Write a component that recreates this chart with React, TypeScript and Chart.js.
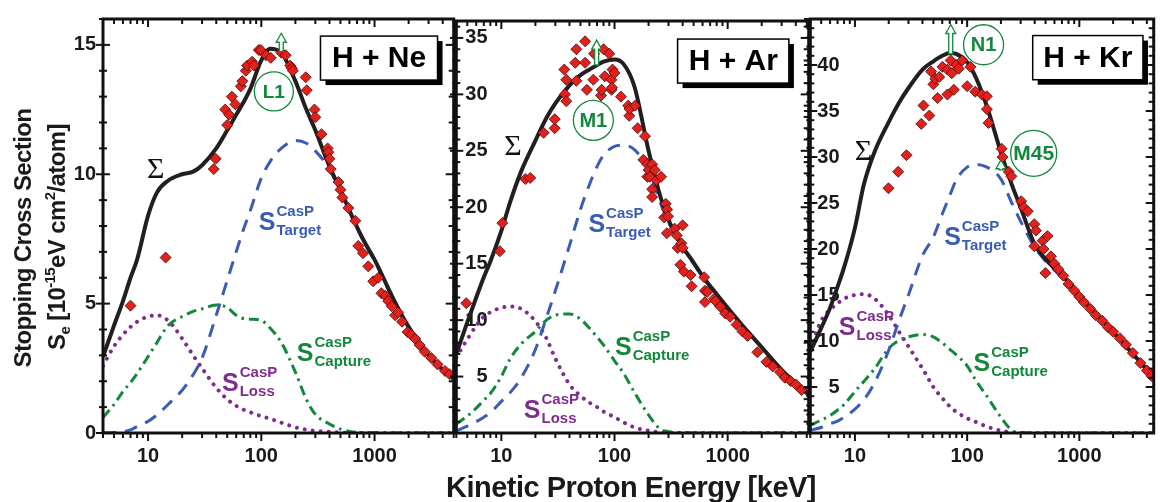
import React, { useEffect, useRef } from "react";
import { Chart, registerables } from "chart.js";

Chart.register(...registerables);

const SANS = '"Liberation Sans", Arial, Helvetica, sans-serif';
const SERIF = '"Liberation Serif", "Times New Roman", serif';
const RED = "#e3211c";
const RED_EDGE = "#4a0808";
const BLACK = "#231f20";
const BLUE = "#3b5cb4";
const GREEN = "#13873b";
const PURPLE = "#7e2d8e";

// ---------- shared tick values ----------
const xTickLabels = [10, 100, 1000];

// ---------- Panel 1: H + Ne ----------
const neE = [4, 5, 6, 7, 8, 10, 12, 15, 20, 25, 30, 40, 50, 60, 70, 80, 100, 120, 150, 200, 250, 300, 400, 500, 600, 800, 1000, 1500, 2000, 3000, 4000, 5000];
const neSigma = [2.95, 4.15, 5.1, 6.0, 6.7, 8.4, 9.3, 9.75, 10.0, 10.1, 10.35, 11.0, 11.7, 12.3, 12.8, 13.3, 14.4, 14.85, 14.7, 13.6, 12.5, 11.7, 10.3, 9.4, 8.6, 7.45, 6.7, 5.1, 4.1, 3.0, 2.45, 2.1];
const neTarget = [0, 0.02, 0.05, 0.12, 0.25, 0.45, 0.7, 1.1, 1.65, 2.25, 2.9, 4.55, 5.9, 7.0, 7.9, 8.6, 9.85, 10.5, 11.0, 11.3, 11.2, 10.9, 10.2, 9.3, 8.55, 7.4, 6.65, 5.05, 4.05, 2.95, 2.42, 2.08];
const neCapture = [0.6, 1.1, 1.6, 1.95, 2.3, 2.95, 3.5, 4.15, 4.5, 4.7, 4.8, 4.95, 4.85, 4.55, 4.42, 4.4, 4.35, 4.05, 3.5, 2.35, 1.3, 0.72, 0.35, 0.15, 0.06, 0.02, 0.01, 0, 0, 0, 0, 0];
const neLoss = [2.6, 3.35, 3.8, 4.1, 4.3, 4.5, 4.55, 4.35, 3.65, 3.0, 2.5, 1.75, 1.3, 1.05, 0.9, 0.8, 0.65, 0.55, 0.4, 0.22, 0.13, 0.08, 0.05, 0.02, 0.01, 0, 0, 0, 0, 0, 0, 0];
const nePtE = [7.0, 14.3, 38, 39.5, 48, 50, 52, 55, 59, 66, 68, 73, 75, 83, 86, 95, 99, 110, 121, 150, 164, 180, 186, 190, 247, 252, 295, 300, 340, 385, 391, 400, 410, 480, 500, 520, 587, 676, 718, 790, 880, 973, 1078, 1150, 1250, 1320, 1420, 1520, 1612, 1750, 1960, 2100, 2290, 2500, 2780, 3170, 3600, 4190, 4600];
const nePtS = [4.92, 6.78, 10.2, 10.6, 12.5, 11.9, 12.3, 13.0, 12.7, 13.4, 13.6, 14.0, 14.2, 14.35, 14.2, 14.8, 14.8, 14.6, 14.5, 14.7, 14.6, 14.2, 14.1, 14.0, 13.75, 13.25, 12.5, 12.2, 11.55, 11.0, 10.85, 10.6, 10.2, 9.7, 9.4, 9.1, 8.7, 8.2, 7.23, 6.95, 6.44, 5.86, 6.0, 5.4, 5.3, 5.1, 4.9, 4.55, 4.66, 4.3, 3.9, 3.8, 3.64, 3.4, 3.14, 2.9, 2.65, 2.4, 2.27];
const neYLabels = [0, 5, 10, 15];

// ---------- Panel 2: H + Ar ----------
const arE = [4, 5, 6, 7, 8, 10, 12, 15, 20, 25, 30, 40, 50, 60, 70, 80, 100, 120, 150, 200, 250, 300, 400, 500, 600, 800, 1000, 1500, 2000, 3000, 4000, 5200];
const arSigma = [7.0, 9.8, 12.0, 13.8, 15.2, 17.9, 20.5, 23.2, 25.9, 27.9, 29.2, 30.8, 31.7, 32.2, 32.6, 32.9, 33.1, 32.7, 30.7, 25.0, 21.2, 18.9, 16.5, 15.1, 13.9, 12.3, 11.1, 9.0, 7.6, 5.6, 4.4, 3.4];
const arTarget = [0.2, 0.6, 1.0, 1.4, 1.8, 2.8, 3.6, 4.9, 7.4, 10.2, 12.6, 16.6, 19.8, 22.0, 23.6, 24.6, 25.4, 25.5, 25.1, 23.3, 20.6, 18.7, 16.4, 15.0, 13.8, 12.2, 11.0, 8.95, 7.55, 5.55, 4.35, 3.35];
const arCapture = [0.8, 1.5, 2.2, 2.9, 3.5, 5.0, 6.6, 7.9, 9.0, 10.0, 10.45, 10.55, 10.1, 9.3, 8.5, 7.8, 6.4, 5.3, 3.6, 1.6, 0.4, 0.12, 0.03, 0, 0, 0, 0, 0, 0, 0, 0, 0];
const arLoss = [6.7, 8.3, 9.5, 10.3, 10.7, 11.1, 11.2, 11.0, 9.9, 8.4, 6.6, 4.3, 3.3, 2.7, 2.3, 1.9, 1.4, 0.95, 0.5, 0.2, 0.08, 0.04, 0.01, 0, 0, 0, 0, 0, 0, 0, 0, 0];
const arPtE = [4.9, 9.7, 10.2, 16.3, 18, 23.6, 29.6, 29.6, 36, 36.5, 37.5, 37.5, 45, 46, 46, 55, 55, 57, 65, 66, 76, 77, 80, 82, 90, 94, 94, 95, 96, 100, 114, 132, 135, 136, 152, 160, 180, 186, 195, 195, 200, 205, 215, 215, 215, 227, 235, 258, 275, 284, 290, 292, 297, 340, 355, 361, 382, 390, 400, 400, 410, 470, 480, 620, 630, 630, 660, 760, 780, 860, 950, 1050, 1200, 1350, 1500, 1830, 2200, 2500, 2900, 3200, 3600, 4000, 4500];
const arPtS = [11.5, 16.1, 18.6, 22.5, 22.6, 26.6, 27.0, 27.8, 32.2, 30.0, 29.4, 31.3, 32.8, 34.0, 31.2, 34.7, 32.8, 30.4, 31.3, 33.6, 29.9, 30.4, 34.0, 31.6, 33.6, 31.3, 30.4, 30.6, 32.2, 31.9, 29.8, 29.0, 28.1, 28.7, 29.0, 27.0, 24.2, 26.3, 23.8, 22.7, 23.3, 22.7, 23.8, 21.6, 20.9, 23.3, 22.4, 22.7, 19.1, 20.3, 17.7, 19.8, 19.2, 18.1, 17.5, 16.4, 14.9, 16.8, 18.4, 16.4, 14.3, 14.0, 13.0, 13.8, 12.6, 11.6, 12.5, 11.9, 11.7, 11.2, 10.6, 10.3, 9.6, 9.0, 8.6, 7.15, 6.3, 5.9, 5.4, 4.9, 4.6, 4.3, 3.8];
const arYLabels = [5, 10, 15, 20, 25, 30, 35];

// ---------- Panel 3: H + Kr ----------
const krE = [4, 5, 6, 7, 8, 10, 12, 15, 20, 25, 30, 40, 50, 60, 70, 80, 100, 120, 150, 200, 250, 300, 400, 500, 600, 800, 1000, 1500, 2000, 3000, 4000, 4600];
const krSigma = [8.85, 11.4, 13.6, 15.9, 18.0, 22.3, 27.0, 30.6, 33.8, 36.0, 37.5, 39.5, 40.4, 41.0, 41.3, 41.2, 40.3, 38.6, 35.5, 30.5, 27.0, 24.5, 20.5, 18.9, 17.9, 16.4, 14.9, 12.6, 11.0, 8.6, 6.9, 6.0];
const krTarget = [0.3, 0.6, 1.0, 1.3, 1.7, 2.6, 3.6, 5.5, 9.0, 12.4, 15.0, 19.3, 21.3, 23.8, 25.8, 27.5, 28.9, 29.2, 28.9, 27.6, 25.0, 23.0, 20.2, 18.7, 17.7, 16.2, 14.75, 12.5, 10.9, 8.5, 6.8, 5.9];
const krCapture = [0.85, 1.4, 1.9, 2.5, 3.1, 4.5, 5.6, 7.0, 9.2, 10.1, 10.45, 10.7, 10.45, 9.8, 9.1, 8.5, 7.3, 5.7, 4.0, 1.7, 0.3, 0.05, 0, 0, 0, 0, 0, 0, 0, 0, 0, 0];
const krLoss = [9.2, 12.2, 13.4, 14.1, 14.6, 15.0, 15.1, 14.6, 12.8, 10.9, 9.4, 7.0, 5.0, 3.8, 2.9, 2.3, 1.6, 1.2, 0.7, 0.25, 0.08, 0.03, 0, 0, 0, 0, 0, 0, 0, 0, 0, 0];
const krPtE = [19.9, 24.3, 28.8, 39, 40.8, 46, 47.7, 50, 52, 54.5, 56.4, 60.3, 66.7, 66.7, 71.3, 73, 76.2, 80, 84.3, 90.3, 100, 107, 118, 135, 150, 150, 155, 203, 207, 235, 248, 303, 320, 347, 397, 397, 410, 470, 480, 499, 520, 558, 600, 650, 720, 800, 900, 1000, 1100, 1250, 1400, 1600, 1800, 2000, 2300, 2600, 3000, 3500, 4000, 4400];
const krPtS = [26.6, 28.4, 30.2, 33.6, 35.6, 34.5, 39.3, 37.9, 38.5, 36.4, 38.7, 39.8, 39.5, 36.8, 40.5, 39.1, 37.3, 40.0, 39.6, 40.5, 37.7, 39.8, 37.1, 36.8, 36.6, 35.2, 33.7, 30.9, 30.0, 28.4, 27.9, 25.2, 24.5, 24.1, 22.7, 20.3, 22.0, 20.9, 20.0, 17.4, 21.4, 19.2, 18.4, 17.8, 17.1, 16.2, 15.5, 14.8, 14.2, 13.5, 12.8, 12.2, 11.5, 11.0, 10.3, 9.6, 8.7, 7.6, 6.8, 6.2];
const krYLabels = [5, 10, 15, 20, 25, 30, 35, 40];

type Ann =
  | { kind: "sigma"; e: number; v: number }
  | { kind: "slabel"; e: number; v: number; sub: string; color: string }
  | { kind: "circle"; e: number; v: number; r: number; text: string; size: number }
  | { kind: "arrow"; e: number; v0: number; v1: number }
  | { kind: "box"; e0: number; e1: number; v0: number; v1: number; text: string };

interface PanelDef {
  id: string;
  canvasLeft: number;
  canvasWidth: number;
  yAxisWidth: number;
  padRight: number;
  xMax: number;
  yMax: number;
  mirror: boolean;
  yPad: number;
  yLabels: number[];
  E: number[];
  sigma: number[];
  target: number[];
  capture: number[];
  loss: number[];
  ptE: number[];
  ptS: number[];
  anns: Ann[];
}

const panels: PanelDef[] = [
  {
    id: "ne", canvasLeft: 0, canvasWidth: 460, yAxisWidth: 103, padRight: 5,
    xMax: 5000, yMax: 16, mirror: false, yPad: 7, yLabels: neYLabels,
    E: neE, sigma: neSigma, target: neTarget, capture: neCapture, loss: neLoss,
    ptE: nePtE, ptS: nePtS,
    anns: [
      { kind: "sigma", e: 11.7, v: 10.15 },
      { kind: "slabel", e: 95, v: 7.84, sub: "Target", color: BLUE },
      { kind: "slabel", e: 206, v: 2.8, sub: "Capture", color: GREEN },
      { kind: "slabel", e: 45, v: 1.63, sub: "Loss", color: PURPLE },
      { kind: "circle", e: 129, v: 13.2, r: 19.5, text: "L1", size: 19 },
      { kind: "arrow", e: 150, v0: 14.75, v1: 15.45 },
      { kind: "box", e0: 333, e1: 3600, v0: 15.34, v1: 13.64, text: "H + Ne" },
    ],
  },
  {
    id: "ar", canvasLeft: 450, canvasWidth: 365, yAxisWidth: 5, padRight: 6,
    xMax: 5200, yMax: 36.5, mirror: true, yPad: 9, yLabels: arYLabels,
    E: arE, sigma: arSigma, target: arTarget, capture: arCapture, loss: arLoss,
    ptE: arPtE, ptS: arPtS,
    anns: [
      { kind: "sigma", e: 12.65, v: 25.3 },
      { kind: "slabel", e: 58.8, v: 17.8, sub: "Target", color: BLUE },
      { kind: "slabel", e: 101, v: 6.9, sub: "Capture", color: GREEN },
      { kind: "slabel", e: 15.8, v: 1.3, sub: "Loss", color: PURPLE },
      { kind: "circle", e: 65, v: 27.7, r: 20, text: "M1", size: 20 },
      { kind: "arrow", e: 69.5, v0: 32.6, v1: 34.8 },
      { kind: "box", e0: 361, e1: 3475, v0: 34.9, v1: 31.0, text: "H + Ar" },
    ],
  },
  {
    id: "kr", canvasLeft: 804, canvasWidth: 356, yAxisWidth: 5, padRight: 2,
    xMax: 4600, yMax: 45, mirror: true, yPad: 7, yLabels: krYLabels,
    E: krE, sigma: krSigma, target: krTarget, capture: krCapture, loss: krLoss,
    ptE: krPtE, ptS: krPtS,
    anns: [
      { kind: "sigma", e: 11.9, v: 30.5 },
      { kind: "slabel", e: 62.4, v: 20.4, sub: "Target", color: BLUE },
      { kind: "slabel", e: 114, v: 6.7, sub: "Capture", color: GREEN },
      { kind: "slabel", e: 7.18, v: 10.7, sub: "Loss", color: PURPLE },
      { kind: "circle", e: 140, v: 42.2, r: 20, text: "N1", size: 20 },
      { kind: "arrow", e: 71.4, v0: 41.2, v1: 44.4 },
      { kind: "circle", e: 392, v: 30.4, r: 23, text: "M45", size: 21 },
      { kind: "arrow", e: 200, v0: 28.6, v1: 29.7 },
      { kind: "box", e0: 384, e1: 3690, v0: 43.2, v1: 38.4, text: "H + Kr" },
    ],
  },
];

function zip(xs: number[], ys: number[]) {
  return xs.map((x, i) => ({ x, y: ys[i] }));
}

function makeDecor(p: PanelDef) {
  return {
    id: "decor_" + p.id,
    afterDatasetsDraw(chart: any) {
      const ctx: CanvasRenderingContext2D = chart.ctx;
      const xs = chart.scales.x;
      const ys = chart.scales.y;
      const X = (e: number) => xs.getPixelForValue(e);
      const Y = (v: number) => ys.getPixelForValue(v);
      const { left, right, top, bottom } = chart.chartArea;
      ctx.save();
      // tick marks
      ctx.strokeStyle = "#111";
      ctx.lineWidth = 2;
      const seg = (x1: number, y1: number, x2: number, y2: number) => {
        ctx.beginPath();
        ctx.moveTo(x1, y1);
        ctx.lineTo(x2, y2);
        ctx.stroke();
      };
      for (const d of [1, 10, 100, 1000]) {
        for (let m = 1; m <= 9; m++) {
          const e = m * d;
          if (e < 4 || e > p.xMax) continue;
          const px = X(e);
          const major = m === 1;
          seg(px, bottom, px, bottom + (major ? 8 : 5));
          seg(px, top, px, top + (major ? 8 : 5));
        }
      }
      for (let v = 0; v <= p.yMax + 1e-6; v += 1) {
        const py = Y(v);
        const major = v % 5 === 0;
        seg(left - (major ? 7 : 4), py, left + (major ? 7 : 4), py);
        seg(right - (major ? 8 : 5), py, right, py);
      }
      ctx.lineWidth = 3;
      ctx.strokeRect(left, top, right - left, bottom - top);

      // annotations
      for (const a of p.anns) {
        if (a.kind === "sigma") {
          ctx.font = `30px ${SERIF}`;
          ctx.fillStyle = "#111";
          ctx.textAlign = "center";
          ctx.textBaseline = "middle";
          ctx.fillText("\u03A3", X(a.e), Y(a.v));
        } else if (a.kind === "slabel") {
          const x = X(a.e);
          const y = Y(a.v);
          ctx.fillStyle = a.color;
          ctx.textAlign = "left";
          ctx.textBaseline = "alphabetic";
          ctx.font = `bold 25px ${SANS}`;
          ctx.fillText("S", x, y);
          const w = ctx.measureText("S").width;
          ctx.font = `bold 15px ${SANS}`;
          ctx.fillText("CasP", x + w + 1, y - 14);
          ctx.fillText(a.sub, x + w + 1, y + 5);
        } else if (a.kind === "circle") {
          const x = X(a.e);
          const y = Y(a.v);
          ctx.beginPath();
          ctx.arc(x, y, a.r, 0, Math.PI * 2);
          ctx.strokeStyle = GREEN;
          ctx.lineWidth = 1.3;
          ctx.stroke();
          ctx.fillStyle = GREEN;
          ctx.font = `bold ${a.size}px ${SANS}`;
          ctx.textAlign = "center";
          ctx.textBaseline = "middle";
          ctx.fillText(a.text, x, y + 1);
        } else if (a.kind === "arrow") {
          const x = X(a.e);
          const yb = Y(a.v0);
          const yt = Y(a.v1);
          const hw = 5, sw = 2;
          const hh = Math.min(9, yb - yt);
          ctx.beginPath();
          ctx.moveTo(x - sw, yb);
          ctx.lineTo(x - sw, yt + hh);
          ctx.lineTo(x - hw, yt + hh);
          ctx.lineTo(x, yt);
          ctx.lineTo(x + hw, yt + hh);
          ctx.lineTo(x + sw, yt + hh);
          ctx.lineTo(x + sw, yb);
          ctx.closePath();
          ctx.fillStyle = "#fff";
          ctx.fill();
          ctx.strokeStyle = GREEN;
          ctx.lineWidth = 1.3;
          ctx.stroke();
        } else if (a.kind === "box") {
          const x0 = X(a.e0);
          const x1 = X(a.e1);
          const y0 = Y(a.v0);
          const y1 = Y(a.v1);
          ctx.fillStyle = "#000";
          ctx.fillRect(x0 + 5, y0 + 5, x1 - x0, y1 - y0);
          ctx.fillStyle = "#fff";
          ctx.fillRect(x0, y0, x1 - x0, y1 - y0);
          ctx.strokeStyle = "#000";
          ctx.lineWidth = 1.5;
          ctx.strokeRect(x0, y0, x1 - x0, y1 - y0);
          ctx.fillStyle = "#000";
          ctx.font = `bold 30px ${SANS}`;
          ctx.textAlign = "center";
          ctx.textBaseline = "middle";
          ctx.fillText(a.text, (x0 + x1) / 2, (y0 + y1) / 2 + 1);
        }
      }
      ctx.restore();
    },
  };
}

const tickFont = { family: SANS, size: 20, weight: "bold" as const };

function PanelChart({ p }: { p: PanelDef }) {
  const ref = useRef<HTMLCanvasElement>(null);
  useEffect(() => {
    const curve = (data: number[], color: string, width: number, dash: number[], cap: string) => ({
      data: zip(p.E, data),
      showLine: true,
      pointRadius: 0,
      pointHoverRadius: 0,
      borderColor: color,
      backgroundColor: color,
      borderWidth: width,
      borderDash: dash,
      borderCapStyle: cap,
      cubicInterpolationMode: "monotone",
      fill: false,
    });
    const chart = new Chart(ref.current as HTMLCanvasElement, {
      type: "scatter",
      data: {
        datasets: [
          {
            label: "data",
            data: zip(p.ptE, p.ptS),
            showLine: false,
            pointStyle: "rectRot",
            pointRadius: 5.5,
            pointHoverRadius: 5.5,
            backgroundColor: RED,
            borderColor: RED_EDGE,
            borderWidth: 0.8,
          } as any,
          curve(p.sigma, BLACK, 4, [], "butt") as any,
          curve(p.target, BLUE, 3, [13, 9], "butt") as any,
          curve(p.capture, GREEN, 3, [10, 5, 2.5, 5], "butt") as any,
          curve(p.loss, PURPLE, 4, [0.01, 8], "round") as any,
        ],
      },
      options: {
        animation: false,
        responsive: false,
        maintainAspectRatio: false,
        events: [],
        layout: { padding: { left: 0, right: p.padRight, top: 10, bottom: 0 } },
        plugins: { legend: { display: false }, tooltip: { enabled: false } },
        scales: {
          x: {
            type: "logarithmic",
            min: 4,
            max: p.xMax,
            position: "bottom",
            grid: { display: false, drawTicks: false },
            border: { display: false },
            afterBuildTicks: (s: any) => {
              s.ticks = xTickLabels.map((v) => ({ value: v }));
            },
            afterFit: (s: any) => {
              s.height = 69;
            },
            ticks: {
              autoSkip: false,
              maxRotation: 0,
              padding: 11,
              color: "#1a1a1a",
              font: tickFont,
              callback: (v: any) => String(v),
            },
          },
          y: {
            type: "linear",
            min: 0,
            max: p.yMax,
            position: "left",
            grid: { display: false, drawTicks: false },
            border: { display: false },
            afterBuildTicks: (s: any) => {
              s.ticks = p.yLabels.map((v) => ({ value: v }));
            },
            afterFit: (s: any) => {
              s.width = p.yAxisWidth;
            },
            ticks: {
              autoSkip: false,
              mirror: p.mirror,
              crossAlign: p.mirror ? "far" : "near",
              padding: p.yPad,
              color: "#1a1a1a",
              font: tickFont,
              callback: (v: any) => String(v),
            },
          },
        },
      } as any,
      plugins: [makeDecor(p)],
    });
    return () => chart.destroy();
  }, [p]);
  return (
    <canvas
      ref={ref}
      width={p.canvasWidth}
      height={502}
      style={{ position: "absolute", left: p.canvasLeft, top: 0, width: p.canvasWidth, height: 502, display: "block" }}
    />
  );
}

const supStyle: React.CSSProperties = { fontSize: 15, position: "relative", top: -10 };
const subStyle: React.CSSProperties = { fontSize: 15, position: "relative", top: 5 };

export default function App() {
  const rotBase: React.CSSProperties = {
    position: "absolute",
    transform: "translate(-50%, -50%) rotate(-90deg)",
    whiteSpace: "nowrap",
    fontFamily: SANS,
    fontWeight: "bold",
    fontSize: 24,
    lineHeight: "24px",
    letterSpacing: "-0.6px",
    color: "#1a1a1a",
  };
  return (
    <div style={{ position: "absolute", left: 0, top: 0, width: 1160, height: 502, background: "#fff", overflow: "hidden" }}>
      {panels.map((p) => (
        <PanelChart key={p.id} p={p} />
      ))}
      <div style={{ ...rotBase, left: 23, top: 238 }}>Stopping Cross Section</div>
      <div style={{ ...rotBase, left: 58, top: 237 }}>
        S<span style={subStyle}>e</span> [10<span style={supStyle}>-15</span>eV cm<span style={supStyle}>2</span>/atom]
      </div>
      <div
        style={{
          position: "absolute",
          left: 631,
          top: 473,
          transform: "translateX(-50%)",
          whiteSpace: "nowrap",
          fontFamily: SANS,
          fontWeight: "bold",
          fontSize: 29,
          lineHeight: "29px",
          letterSpacing: "-0.5px",
          color: "#1a1a1a",
        }}
      >
        Kinetic Proton Energy [keV]
      </div>
    </div>
  );
}
